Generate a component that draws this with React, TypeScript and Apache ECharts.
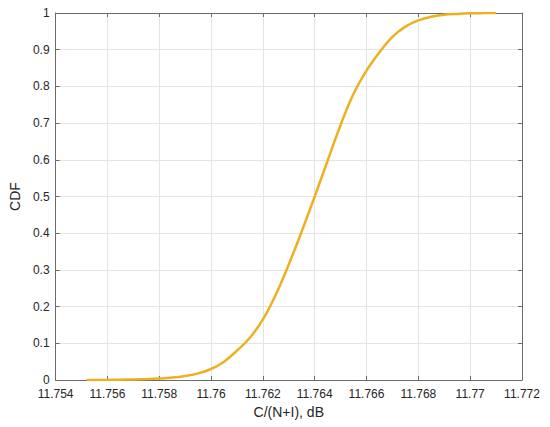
import React, { useEffect, useRef } from "react";
import * as echarts from "echarts";

const xValues = [
  11.7552, 11.756, 11.7565, 11.757, 11.7575, 11.758, 11.7585, 11.759, 11.7595, 11.76,
  11.7605, 11.761, 11.7615, 11.762, 11.7625, 11.763, 11.7635, 11.764, 11.7645,
  11.765, 11.7655, 11.766, 11.7665, 11.767, 11.7675, 11.768, 11.7685, 11.769,
  11.7695, 11.77, 11.7705, 11.771,
];
const cdfValues = [
  0, 0.0005, 0.001, 0.0015, 0.0025, 0.004, 0.0065, 0.011, 0.018, 0.03,
  0.05, 0.08, 0.115, 0.165, 0.233, 0.315, 0.405, 0.5, 0.598,
  0.695, 0.78, 0.843, 0.893, 0.935, 0.963, 0.98, 0.99, 0.995,
  0.9975, 0.999, 0.9997, 1.0,
];
const xName = "C/(N+I), dB";
const yName = "CDF";

const FONT = "'Liberation Sans', Arial, Helvetica, sans-serif";
const AXIS_COLOR = "#6b6b6b";
const GRID_COLOR = "#e4e4e4";
const TEXT_COLOR = "#262626";

export default function App() {
  const ref = useRef<HTMLDivElement>(null);
  useEffect(() => {
    if (!ref.current) return;
    const chart = echarts.init(ref.current, undefined, { renderer: "svg" });
    const fmtX = (v: number) => String(parseFloat(v.toFixed(3)));
    const fmtY = (v: number) => String(parseFloat(v.toFixed(1)));
    const baseX = {
      type: "value" as const,
      min: 11.754,
      max: 11.772,
      interval: 0.002,
    };
    const baseY = {
      type: "value" as const,
      min: 0,
      max: 1,
      interval: 0.1,
    };
    chart.setOption({
      animation: false,
      backgroundColor: "#ffffff",
      grid: { left: 54, right: 28, top: 13, bottom: 47, containLabel: false },
      xAxis: [
        {
          ...baseX,
          position: "bottom",
          name: xName,
          nameLocation: "middle",
          nameGap: 25,
          nameTextStyle: { fontFamily: FONT, fontSize: 14, color: TEXT_COLOR },
          axisLine: { show: true, onZero: false, lineStyle: { color: AXIS_COLOR, width: 1 } },
          axisTick: { show: true, inside: true, length: 4, lineStyle: { color: AXIS_COLOR } },
          axisLabel: { fontFamily: FONT, fontSize: 12, color: TEXT_COLOR, margin: 8, formatter: fmtX },
          splitLine: { show: true, lineStyle: { color: GRID_COLOR, width: 1 } },
        },
        {
          ...baseX,
          position: "top",
          axisLine: { show: true, onZero: false, lineStyle: { color: AXIS_COLOR, width: 1 } },
          axisTick: { show: true, inside: true, length: 4, lineStyle: { color: AXIS_COLOR } },
          axisLabel: { show: false },
          splitLine: { show: false },
        },
      ],
      yAxis: [
        {
          ...baseY,
          position: "left",
          name: yName,
          nameLocation: "middle",
          nameGap: 33,
          nameTextStyle: { fontFamily: FONT, fontSize: 14, color: TEXT_COLOR },
          axisLine: { show: true, onZero: false, lineStyle: { color: AXIS_COLOR, width: 1 } },
          axisTick: { show: true, inside: true, length: 4, lineStyle: { color: AXIS_COLOR } },
          axisLabel: { fontFamily: FONT, fontSize: 12, color: TEXT_COLOR, margin: 6, formatter: fmtY },
          splitLine: { show: true, lineStyle: { color: GRID_COLOR, width: 1 } },
        },
        {
          ...baseY,
          position: "right",
          axisLine: { show: true, onZero: false, lineStyle: { color: AXIS_COLOR, width: 1 } },
          axisTick: { show: true, inside: true, length: 4, lineStyle: { color: AXIS_COLOR } },
          axisLabel: { show: false },
          splitLine: { show: false },
        },
      ],
      series: [
        {
          type: "line",
          xAxisIndex: 0,
          yAxisIndex: 0,
          data: xValues.map((x, i) => [x, cdfValues[i]]),
          showSymbol: false,
          smooth: 0.4,
          lineStyle: { color: "#EDB120", width: 2.5 },
          itemStyle: { color: "#EDB120" },
        },
      ],
    });
    return () => chart.dispose();
  }, []);
  return <div ref={ref} style={{ width: 550, height: 427, position: "absolute", left: 0, top: 0 }} />;
}
